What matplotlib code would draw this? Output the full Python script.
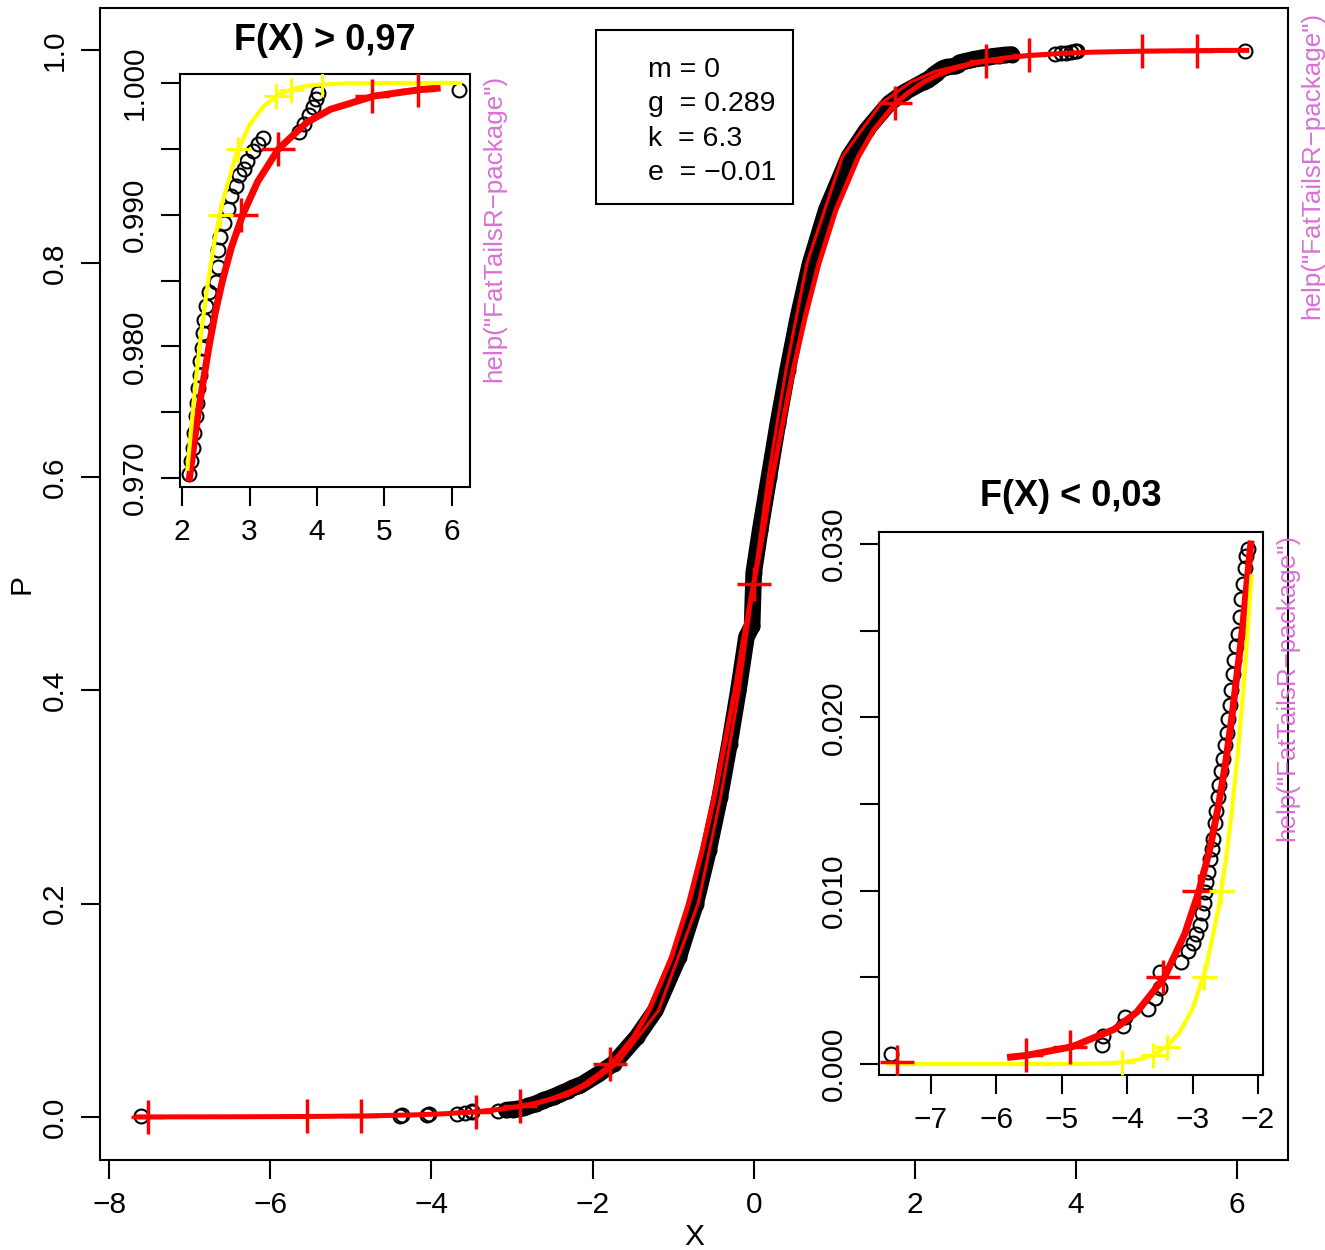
import matplotlib
matplotlib.use('Agg')
import matplotlib.pyplot as plt
from matplotlib.patches import Rectangle
import numpy as np

plt.rcParams['font.family'] = ['Liberation Sans', 'DejaVu Sans']

emp_x = [-7.60, -4.39, -4.37, -4.06, -4.03, -3.68, -3.58, -3.50, -3.50, -3.17,
         -3.07, -2.99, -2.94, -2.89, -2.86, -2.83, -2.81, -2.80, -2.76, -2.73,
         -2.70, -2.69, -2.66, -2.64, -2.61, -2.60, -2.56, -2.53, -2.51, -2.48,
         -2.46, -2.43, -2.41, -2.38, -2.36, -2.33, -2.31, -2.28, -2.26, -2.23,
         -2.20, -2.18, -2.15,
         -1.93, -1.74, -1.45, -1.22, -0.93, -0.72, -0.56, -0.42, -0.30, -0.19,
         -0.09, -0.02, 0.00, 0.08, 0.19, 0.30, 0.42, 0.55, 0.70, 0.90, 1.18,
         1.40, 1.68, 1.86,
         2.11, 2.13, 2.16, 2.18, 2.21, 2.22, 2.23, 2.26, 2.27, 2.29, 2.31, 2.33,
         2.36, 2.40, 2.50, 2.53, 2.54, 2.56, 2.62, 2.68, 2.73, 2.80, 2.85, 2.92,
         2.97, 3.05, 3.12, 3.20, 3.74, 3.81, 3.88, 3.94, 3.99, 4.01, 6.10]
emp_p = [0.00057, 0.0011, 0.0016, 0.0022, 0.0027, 0.0032, 0.0038, 0.0044, 0.0053, 0.0059,
         0.0065, 0.0070, 0.0075, 0.0080, 0.0087, 0.0093, 0.0099, 0.0105, 0.0111, 0.0118,
         0.0124, 0.0130, 0.0139, 0.0146, 0.0154, 0.0161, 0.0169, 0.0176, 0.0184, 0.0191,
         0.0199, 0.0207, 0.0216, 0.0225, 0.0233, 0.0241, 0.0248, 0.0258, 0.0268, 0.0277,
         0.0286, 0.0293, 0.0297,
         0.04, 0.05, 0.075, 0.10, 0.15, 0.20, 0.25, 0.30, 0.35, 0.40,
         0.45, 0.46, 0.51, 0.55, 0.60, 0.65, 0.70, 0.75, 0.80, 0.85, 0.90,
         0.925, 0.95, 0.96,
         0.9703, 0.9713, 0.9723, 0.9734, 0.9747, 0.9757, 0.9768, 0.9778, 0.9789, 0.9799, 0.9810, 0.9820,
         0.9831, 0.9841, 0.9849, 0.9860, 0.9873, 0.9883, 0.9894, 0.9904, 0.9914, 0.9922, 0.9930, 0.9935,
         0.9941, 0.9948, 0.9954, 0.9958, 0.9963, 0.9969, 0.9976, 0.9982, 0.9988, 0.9992, 0.9995]

# fitted curve (red)
fit_p = [0.000085, 0.0001, 0.0002, 0.0004, 0.0005, 0.001, 0.002, 0.003, 0.005, 0.0075,
         0.01, 0.0125, 0.015, 0.0175, 0.02, 0.025, 0.03, 0.04, 0.05, 0.075, 0.1, 0.15,
         0.2, 0.25, 0.3, 0.35, 0.4, 0.45, 0.5, 0.55, 0.6, 0.65, 0.7, 0.75, 0.8, 0.85,
         0.9, 0.925, 0.95, 0.96, 0.97, 0.975, 0.98, 0.9825, 0.985, 0.9875, 0.99, 0.9925,
         0.995, 0.997, 0.998, 0.999, 0.9995, 0.9996, 0.99971]
fit_x = [-7.65, -7.43, -6.57, -5.78, -5.54, -4.84, -4.20, -3.85, -3.43, -3.12,
         -2.90, -2.73, -2.60, -2.49, -2.40, -2.24, -2.11, -1.92, -1.76, -1.49, -1.30, -1.02,
         -0.81, -0.64, -0.49, -0.36, -0.23, -0.12, 0.00, 0.12, 0.23, 0.36, 0.49, 0.64, 0.81, 1.02,
         1.30, 1.49, 1.76, 1.92, 2.11, 2.24, 2.40, 2.49, 2.60, 2.73, 2.90, 3.12,
         3.43, 3.85, 4.20, 4.84, 5.54, 5.78, 6.12]

# second red curve, main panel only
fit2_p = [0.005, 0.01, 0.02, 0.03, 0.05, 0.1, 0.2, 0.3, 0.4, 0.5, 0.6, 0.7, 0.8, 0.9, 0.95, 0.97, 0.98, 0.99, 0.995]
fit2_x = [-3.40, -2.82, -2.31, -2.05, -1.69, -1.18, -0.69, -0.41, -0.18, 0.0, 0.18, 0.40, 0.66, 1.10, 1.58, 1.95, 2.25, 2.80, 3.35]

# quantile crosses
q_p = [0.0001, 0.0005, 0.001, 0.005, 0.01, 0.05, 0.5, 0.95, 0.99, 0.995, 0.999, 0.9995, 0.9999]
q_red = [-7.52, -5.55, -4.87, -3.45, -2.90, -1.78, 0.0, 1.75, 2.88, 3.42, 4.82, 5.50, 7.40]
q_yel = [-4.08, -3.61, -3.39, -2.83, -2.56, -1.81, 0.0, 1.81, 2.56, 2.83, 3.39, 3.61, 4.08]

# normal curve (yellow), lower and upper tails
yl_x = [-7.65, -5.0, -4.5, -4.2, -4.0, -3.8, -3.6, -3.4, -3.2, -3.0, -2.8, -2.6, -2.5, -2.4, -2.3, -2.2, -2.1]
yl_p = [0.0, 0.000003, 0.00002, 0.000067, 0.00014, 0.00028, 0.00053, 0.00100, 0.00181, 0.00319,
        0.00546, 0.00905, 0.01152, 0.01456, 0.01827, 0.02275, 0.02813]
yu_x = [2.08, 2.2, 2.3, 2.4, 2.5, 2.6, 2.8, 3.0, 3.2, 3.4, 3.6, 3.8, 4.0, 4.5, 5.0, 6.12]
yu_p = [0.9707, 0.97725, 0.98173, 0.98544, 0.98848, 0.99096, 0.99454, 0.99681, 0.99819, 0.99900,
        0.99947, 0.99972, 0.99986, 0.99998, 1.0, 1.0]

pars = ['m = 0', 'g  = 0.289', 'k  = 6.3', 'e  = \u22120.01']
helptxt = 'help("FatTailsR\u2212package")'

W, H = 1325, 1250
fig = plt.figure(figsize=(W / 100, H / 100), dpi=100)

def frac(l, t, r, b):
    return [l / W, 1 - b / H, (r - l) / W, (b - t) / H]

def style(ax, fs=21.5):
    for s in ax.spines.values():
        s.set_linewidth(1.5)
    ax.tick_params(direction='out', length=13.5, width=1.5, labelsize=fs, pad=9)
    ax.tick_params(axis='y', labelrotation=90)
    for lb in ax.get_yticklabels():
        lb.set_va('center')

def pink(ax, wpx):
    ax.text(1 + 24 / wpx, 0.997, helptxt, transform=ax.transAxes, rotation=90,
            ha='center', va='top', fontsize=18.7, color='orchid', clip_on=False)

ex = np.array(emp_x)
ep = np.array(emp_p)
fx = np.array(fit_x)
fp = np.array(fit_p)

# ---------------- main panel ----------------
ax = fig.add_axes(frac(100, 8, 1288, 1160))
band = (ep >= 0.0065) & (ep <= 0.9958)
ax.plot(ex[band], ep[band], color='black', lw=12, solid_capstyle='round', zorder=2)
ax.plot(ex, ep, 'o', ms=10, mfc='none', mec='black', mew=1.5, zorder=2)
ax.plot(fx, fp, color='red', lw=3.6, zorder=3)
ax.plot(fit2_x, fit2_p, color='red', lw=2.2, zorder=3)
ax.plot(q_red, q_p, '+', color='red', ms=25, mew=2.5, zorder=4)
ax.set_xlim(-8.113, 6.631)
ax.set_ylim(-0.0403, 1.0394)
ax.set_xticks([-8, -6, -4, -2, 0, 2, 4, 6])
ax.set_yticks([0.0, 0.2, 0.4, 0.6, 0.8, 1.0])
ax.set_yticklabels(['0.0', '0.2', '0.4', '0.6', '0.8', '1.0'])
style(ax)
pink(ax, 1188)
fig.text(694 / W, 1 - 1237 / H, 'X', ha='center', va='center', fontsize=21.5)
fig.text(22 / W, 1 - 584 / H, 'P', ha='center', va='center', rotation=90, fontsize=21.5)

# parameters box
fig.patches.append(Rectangle((596 / W, 1 - 204 / H), 197 / W, 174 / H, transform=fig.transFigure,
                             fill=False, lw=1.5, ec='black'))
for i, t in enumerate(pars):
    fig.text(648 / W, 1 - (70 + 34.3 * i) / H, t, ha='left', va='center', fontsize=20.5)

# ---------------- upper tail inset ----------------
a1 = fig.add_axes(frac(180, 74, 470, 487))
a1.plot(ex, ep, 'o', ms=10, mfc='none', mec='black', mew=1.5, zorder=2)
up = (fp >= 0.97) & (fp <= 0.9996)
a1.plot(fx[up], fp[up], color='red', lw=5, zorder=3)
a1.plot(yu_x, yu_p, color='yellow', lw=3, zorder=3)
a1.plot(q_red, q_p, '+', color='red', ms=24, mew=2.5, zorder=4)
a1.plot(q_yel, q_p, '+', color='yellow', ms=18, mew=2.2, zorder=4)
a1.set_xlim(1.970, 6.267)
a1.set_ylim(0.96932, 1.00068)
a1.set_xticks([2, 3, 4, 5, 6])
a1.set_yticks([0.970, 0.975, 0.980, 0.985, 0.990, 0.995, 1.000])
a1.set_yticklabels(['0.970', '', '0.980', '', '0.990', '', '1.000'])
style(a1)
pink(a1, 290)
a1.text(0.5, 1 + 33 / 413, 'F(X) > 0,97', transform=a1.transAxes, ha='center', va='center',
        fontsize=26, fontweight='bold')

# ---------------- lower tail inset ----------------
a2 = fig.add_axes(frac(879, 532, 1263, 1075))
a2.plot(ex, ep, 'o', ms=10, mfc='none', mec='black', mew=1.5, zorder=2)
lo = (fp >= 0.0004) & (fp <= 0.03)
a2.plot(fx[lo], fp[lo], color='red', lw=5, zorder=3)
a2.plot(yl_x, yl_p, color='yellow', lw=3, zorder=3)
a2.plot(q_red, q_p, '+', color='red', ms=24, mew=2.5, zorder=4)
a2.plot(q_yel, q_p, '+', color='yellow', ms=18, mew=2.2, zorder=4)
a2.set_xlim(-7.79, -1.924)
a2.set_ylim(-0.00063, 0.03069)
a2.set_xticks([-7, -6, -5, -4, -3, -2])
a2.set_yticks([0.0, 0.005, 0.010, 0.015, 0.020, 0.025, 0.030])
a2.set_yticklabels(['0.000', '', '0.010', '', '0.020', '', '0.030'])
style(a2)
pink(a2, 384)
a2.text(0.5, 1 + 35 / 543, 'F(X) < 0,03', transform=a2.transAxes, ha='center', va='center',
        fontsize=26, fontweight='bold')

fig.savefig('out.png', dpi=100)
